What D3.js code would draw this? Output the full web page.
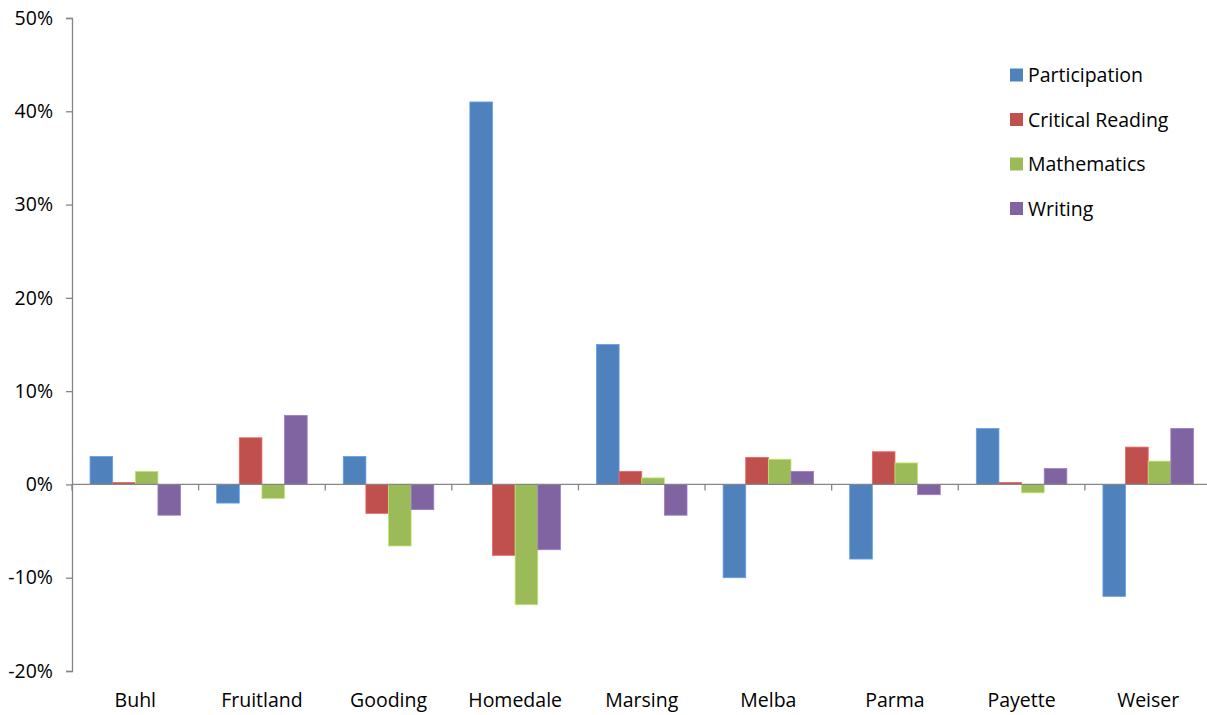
<!DOCTYPE html>
<html><head><meta charset="utf-8">
<script src="https://cdn.jsdelivr.net/npm/d3@7"></script>
<style>html,body{margin:0;padding:0;background:#fff;overflow:hidden}</style>
</head><body>
<svg id="chart" width="1207" height="715"></svg>
<script>
const categories = ["Buhl","Fruitland","Gooding","Homedale","Marsing","Melba","Parma","Payette","Weiser"];
const seriesNames = ["Participation","Critical Reading","Mathematics","Writing"];
const participation = [3, -2, 3, 41, 15, -10, -8, 6, -12];
const criticalReading = [0.2, 5, -3.1, -7.6, 1.4, 2.9, 3.5, 0.2, 4];
const mathematics = [1.4, -1.5, -6.6, -12.9, 0.7, 2.7, 2.3, -0.9, 2.5];
const writing = [-3.3, 7.4, -2.7, -7.0, -3.3, 1.4, -1.1, 1.7, 6];
const yTicks = [-20, -10, 0, 10, 20, 30, 40, 50];
const colors = ["#4F81BD","#C0504D","#9BBB59","#8064A2"];

(function () {
const seriesValues = [participation, criticalReading, mathematics, writing];
const svg = d3.select("#chart");
const font = "'Open Sans', Lato, sans-serif";
const fs = 19.5;
const mLeft = 72, mRight = 1211.5, mTop = 18, mBottom = 671;

const y = d3.scaleLinear().domain([-20, 50]).range([mBottom, mTop]);
const x0 = d3.scaleBand().domain(categories).range([mLeft, mRight]).paddingInner(0.285).paddingOuter(0.1425);
const x1 = d3.scaleBand().domain(seriesNames).range([0, x0.bandwidth()]);

categories.forEach((c, ci) => {
  const g = svg.append("g").attr("transform", `translate(${x0(c)},0)`);
  seriesNames.forEach((s, si) => {
    const v = seriesValues[si][ci];
    g.append("rect")
      .attr("x", x1(s))
      .attr("width", x1.bandwidth())
      .attr("y", y(Math.max(0, v)))
      .attr("height", Math.abs(y(v) - y(0)))
      .attr("fill", colors[si])
      .attr("stroke", d3.color(colors[si]).brighter(0.6))
      .attr("stroke-width", 0.8);
  });
});

const axisColor = "#868686";
const yAxis = d3.axisLeft(y).tickValues(yTicks).tickSize(6).tickFormat(d => d + "%");
const ya = svg.append("g").attr("transform", `translate(${mLeft},0)`).call(yAxis);
ya.select(".domain").attr("stroke", axisColor).attr("stroke-width", 1.3);
ya.selectAll(".tick line").attr("stroke", axisColor).attr("stroke-width", 1.3);
ya.selectAll(".tick text").attr("font-family", font).attr("font-size", fs).attr("fill", "#000").attr("x", -19);

const xTickPos = categories.map(c => x0(c) - x0.step() * x0.paddingInner() / 2);
xTickPos.push(mRight);
svg.append("line").attr("x1", mLeft).attr("x2", mRight).attr("y1", y(0)).attr("y2", y(0))
  .attr("stroke", axisColor).attr("stroke-width", 1.3);
svg.selectAll(".xtick").data(xTickPos).enter().append("line")
  .attr("x1", d => d).attr("x2", d => d).attr("y1", y(0)).attr("y2", y(0) + 6)
  .attr("stroke", axisColor).attr("stroke-width", 1.3);
svg.selectAll(".xlabel").data(categories).enter().append("text")
  .attr("x", d => x0(d) + x0.bandwidth() / 2).attr("y", 707)
  .attr("text-anchor", "middle").attr("font-family", font).attr("font-size", fs).attr("fill", "#000")
  .text(d => d);

const legend = svg.append("g");
seriesNames.forEach((s, i) => {
  const cy = 75 + i * 44.5;
  legend.append("rect").attr("x", 1010).attr("y", cy - 6.5).attr("width", 13).attr("height", 13).attr("fill", colors[i]);
  legend.append("text").attr("x", 1028).attr("y", cy + 7).attr("font-family", font).attr("font-size", fs).attr("fill", "#000").text(s);
});
})();
</script>
</body></html>
